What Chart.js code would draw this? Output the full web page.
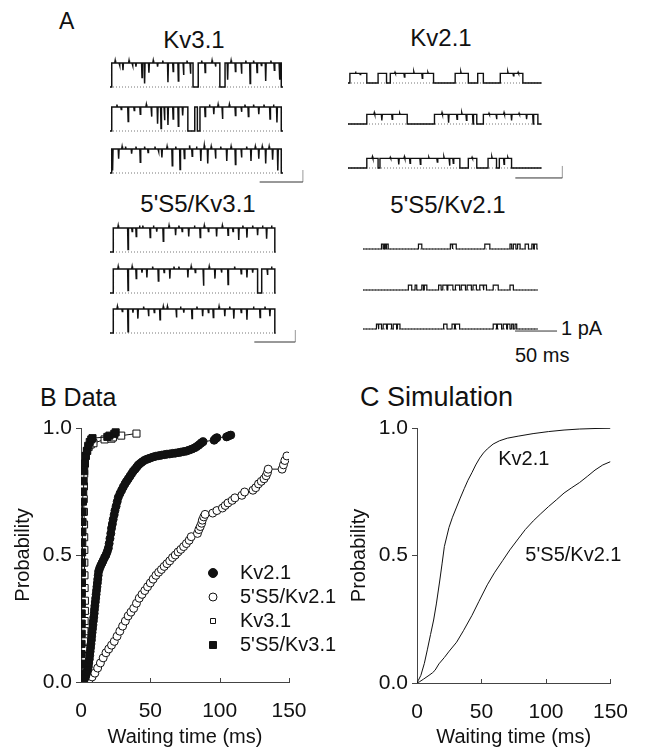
<!DOCTYPE html>
<html>
<head>
<meta charset="utf-8">
<title>Kv2.1 / Kv3.1 first latency</title>
<script src="https://cdn.jsdelivr.net/npm/chart.js@4.4.1/dist/chart.umd.min.js"></script>
<style>
  html, body { margin: 0; padding: 0; background: #fff; }
  #fig { position: relative; width: 645px; height: 749px; overflow: hidden;
         font-family: Arial, "Liberation Sans", Helvetica, sans-serif; color: #111; }
  #fig canvas { position: absolute; }
  .txt { position: absolute; white-space: nowrap; line-height: 1; transform: translate(-50%, -50%); }
  .txt.left { transform: translate(0, -50%); }
</style>
</head>
<body>
<div id="fig">
  <div class="txt left" style="left:59px;top:21px;font-size:23px">A</div>
  <div class="txt" style="left:194px;top:40px;font-size:24px">Kv3.1</div>
  <div class="txt" style="left:441px;top:38px;font-size:24px">Kv2.1</div>
  <div class="txt" style="left:198px;top:204px;font-size:24px">5'S5/Kv3.1</div>
  <div class="txt" style="left:448px;top:205px;font-size:24px">5'S5/Kv2.1</div>
  <div class="txt left" style="left:561px;top:328px;font-size:20px">1 pA</div>
  <div class="txt left" style="left:515px;top:355px;font-size:20px">50 ms</div>
  <div class="txt left" style="left:40px;top:397px;font-size:25px">B Data</div>
  <div class="txt left" style="left:360px;top:397px;font-size:27px">C Simulation</div>
</div>
<script>
// ---- A: single-channel records (time in ms, current in pA) ----
// each record = open intervals, plus brief flickers [time, current] inside them
const kv31Unit = 2.0;
const kv31End = 200;
const kv31Opens = [
  [[2, 96], [102, 127], [133, 198]],
  [[2, 90], [98, 101], [104, 198]],
  [[2, 198]]
];
const kv31Flickers = [
  [[6, 2.2], [11, 1.8], [15, 1.4], [22, 2.2], [26, 1.8], [30, 1.7], [37, 0.8], [40, 0.3], [45, 1.2], [50, 2.2], [55, 1.7], [61, 2.2], [67, 0.4],
   [73, 1.3], [79, 0.5], [85, 1.0], [89, 2.2], [93, 1.1], [106, 2.2], [110, 1.2], [118, 2.2], [122, 1.7], [136, 0.6], [140, 2.2], [145, 1.3],
   [152, 1.1], [157, 2.2], [162, 0.3], [166, 2.2], [170, 1.2], [175, 1.8], [180, 0.5], [186, 2.2], [190, 1.4], [196, 0.6]],
  [[8, 2.2], [13, 1.8], [21, 0.8], [28, 1.7], [35, 1.4], [42, 2.2], [48, 1.2], [55, 0.6], [59, 0.2], [63, 0.9], [67, 0.5], [73, 1.0], [79, 0.4],
   [84, 1.3], [110, 1.2], [115, 2.2], [120, 1.4], [125, 2.2], [130, 1.0], [138, 2.2], [145, 1.3], [152, 1.6], [156, 2.2], [160, 1.2],
   [166, 2.2], [172, 1.4], [178, 2.2], [185, 1.0], [189, 2.2], [193, 0.7]],
  [[3, 0.2], [10, 1.2], [14, 2.2], [18, 2.2], [25, 1.6], [30, 2.2], [35, 0.9], [40, 2.2], [44, 1.7], [52, 2.2], [56, 1.8], [60, 1.3], [66, 2.2],
   [72, 0.6], [76, 2.2], [81, 0.3], [86, 1.2], [92, 2.3], [95, 1.4], [100, 2.2], [105, 1.0], [109, 2.3], [113, 0.8], [117, 2.2], [122, 1.2],
   [128, 2.2], [135, 1.0], [140, 2.2], [145, 0.7], [152, 1.3], [158, 2.2], [163, 1.0], [168, 2.2], [172, 1.2], [176, 2.2], [180, 0.8],
   [184, 2.2], [188, 1.1], [194, 0.2]]
];

const kv21Unit = 0.8;
const kv21End = 206;
const kv21Opens = [
  [[2, 20], [32, 41], [45, 91], [114, 128], [138, 144], [162, 186]],
  [[20, 63], [92, 137], [144, 202]],
  [[20, 32], [34, 119], [128, 137], [149, 158], [161, 174]]
];
const kv21Flickers = [
  [[8, 0.95], [13, 0.7], [50, 0.9], [60, 0.5], [70, 0.95], [79, 0.4], [85, 0.9], [120, 0.95], [170, 0.95], [176, 0.6], [181, 0.9]],
  [[28, 0.95], [36, 0.3], [47, 0.4], [55, 0.9], [100, 0.95], [107, 0.1], [116, 0.4], [121, 0.95], [126, 0.3], [133, 0.0],
   [150, 0.9], [158, 0.4], [166, 0.95], [174, 0.3], [182, 0.9], [190, 0.4], [197, 0.0]],
  [[26, 0.95], [45, 0.9], [54, 0.3], [60, 0.95], [66, 0.4], [77, 0.3], [86, 0.9], [95, 0.5], [102, 0.95], [108, 0.2], [112, 0.4],
   [132, 0.9], [153, 0.95], [166, 0.3], [170, 0.9]]
];

const s5kv31Unit = 2.0;
const s5kv31End = 202;
const s5kv31Opens = [
  [[4, 201]],
  [[4, 180], [185, 201]],
  [[4, 201]]
];
const s5kv31Flickers = [
  [[10, 2.2], [22, 0.2], [27, 1.7], [32, 1.3], [36, 2.2], [40, 2.2], [49, 1.2], [53, 2.2], [57, 1.7], [65, 0.9], [72, 2.2], [80, 1.4], [84, 2.2],
   [88, 1.7], [96, 1.3], [103, 2.2], [110, 1.2], [115, 2.2], [120, 1.7], [130, 1.3], [137, 2.2], [144, 1.4], [150, 1.7], [157, 1.0],
   [162, 2.2], [167, 1.2], [174, 2.2], [180, 1.4], [186, 2.2], [191, 1.1], [197, 2.2]],
  [[10, 2.2], [22, 0.2], [27, 2.2], [32, 1.2], [39, 1.7], [45, 1.3], [52, 2.2], [59, 1.0], [66, 1.7], [73, 1.2], [78, 2.2], [84, 2.2],
   [95, 1.3], [99, 2.2], [104, 1.7], [114, 0.6], [121, 2.2], [128, 1.2], [136, 1.7], [144, 0.7], [152, 2.2], [160, 1.6], [167, 1.3],
   [174, 1.7], [192, 1.5], [197, 2.2]],
  [[9, 2.2], [15, 1.8], [22, 0.1], [28, 1.7], [34, 1.2], [41, 2.2], [47, 1.4], [54, 1.7], [61, 1.1], [65, 2.2], [70, 2.2], [81, 1.3],
   [86, 2.2], [90, 1.7], [100, 1.2], [106, 2.2], [113, 1.4], [120, 1.7], [126, 1.3], [133, 2.2], [140, 1.4], [146, 2.2], [151, 1.2],
   [160, 1.7], [167, 1.1], [175, 2.2], [183, 1.3], [189, 2.2], [195, 1.4]]
];

const s5kv21Unit = 0.4;
const s5kv21End = 208;
const s5kv21Opens = [
  [[22, 24], [25.5, 27], [28, 30], [66, 70], [104, 106], [107, 111], [145, 151], [175, 177], [179, 182], [184, 187], [193, 197], [201, 203], [204, 207]],
  [[54, 58], [62, 64], [70, 72], [73, 76], [90, 93], [95, 100], [101, 107], [110, 115], [117, 122], [124, 129], [131, 135], [139, 143], [144, 147], [155, 161], [175, 179]],
  [[16, 18], [19, 22], [24, 28], [29, 34], [36, 40], [41, 44], [96, 100], [106, 109], [110, 115], [155, 159], [160, 165], [167, 171], [172, 175], [177, 179], [181, 183]]
];
const s5kv21Flickers = [[], [], []];

// calibration bars
const barMs = 50;
const barPA = 1;

// ---- B: measured first-latency distributions [waiting time ms, probability] ----
const kv21Data = [
  [1.5, 0.005], [2.5, 0.012], [3.2, 0.02], [3.8, 0.03], [4.3, 0.04], [4.8, 0.05], [5.3, 0.06], [5.6, 0.075], [6, 0.09], [6.3, 0.105],
  [6.6, 0.12], [6.9, 0.135], [7.2, 0.15], [7.5, 0.165], [7.7, 0.18], [8, 0.195], [8.3, 0.21], [8.6, 0.225], [8.9, 0.24], [9.2, 0.255],
  [9.5, 0.27], [9.7, 0.285], [10, 0.3], [10.3, 0.315], [10.6, 0.33], [10.9, 0.345], [11.2, 0.36], [11.5, 0.375], [11.8, 0.39], [12.1, 0.405],
  [12.4, 0.42], [12.7, 0.435], [13.4, 0.447], [14.2, 0.458], [15.1, 0.468], [16, 0.478], [17, 0.49], [18, 0.5], [18.9, 0.513], [19.7, 0.527],
  [20.3, 0.545], [20.9, 0.565], [21.5, 0.585], [22, 0.605], [22.6, 0.622], [23.2, 0.64], [23.9, 0.658], [24.5, 0.675], [25.3, 0.692], [26.1, 0.71],
  [26.9, 0.727], [28.1, 0.742], [29.3, 0.755], [30.5, 0.768], [31.7, 0.78], [32.9, 0.79], [34.1, 0.8], [35.3, 0.81], [36.5, 0.82], [37.7, 0.83],
  [39, 0.838], [40.2, 0.846], [41.3, 0.854], [42.6, 0.86], [44, 0.866], [45.5, 0.872], [47, 0.876], [48.5, 0.879], [50, 0.882], [52, 0.886],
  [54, 0.889], [56, 0.891], [58, 0.893], [60, 0.895], [62, 0.897], [64, 0.898], [66, 0.9], [68, 0.901], [70, 0.903], [72, 0.905],
  [74, 0.907], [76, 0.909], [78, 0.913], [80, 0.917], [82, 0.922], [83.5, 0.927], [85, 0.933], [86.5, 0.94], [88, 0.946], [96, 0.952],
  [97, 0.958], [98, 0.962], [105, 0.965], [106.5, 0.969], [108, 0.972]
];
const s5kv21Data = [
  [2, 0.0], [4, 0.004], [6, 0.01], [8, 0.02], [10, 0.035], [12, 0.055], [14, 0.075], [16, 0.095], [18, 0.115], [20, 0.13],
  [22, 0.145], [24, 0.16], [26, 0.18], [28, 0.2], [30, 0.22], [32, 0.24], [34, 0.26], [36, 0.275], [38, 0.29], [40, 0.31],
  [42, 0.33], [44, 0.345], [46, 0.36], [48, 0.375], [50, 0.39], [52, 0.405], [54, 0.42], [56, 0.432], [58, 0.443], [60, 0.455],
  [62, 0.466], [64, 0.477], [66, 0.49], [68, 0.5], [70, 0.512], [72, 0.522], [74, 0.533], [76, 0.545], [78, 0.558], [79.5, 0.572],
  [84, 0.585], [85, 0.6], [86, 0.612], [87, 0.625], [87.5, 0.637], [88.5, 0.65], [89.5, 0.66], [95, 0.665], [98, 0.675], [102, 0.685],
  [104, 0.695], [106, 0.705], [109, 0.715], [111, 0.725], [116, 0.735], [118, 0.748], [124, 0.755], [126, 0.765], [128, 0.78], [130, 0.79],
  [132, 0.8], [133.5, 0.812], [134.5, 0.825], [135, 0.838], [145, 0.838], [146, 0.855], [147, 0.872], [148.5, 0.89]
];
const kv31Data = [
  [0.5, 0.005], [1, 0.03], [1.5, 0.07], [2, 0.1], [2, 0.13], [2.3, 0.16], [2.5, 0.2], [2.6, 0.24], [2.8, 0.28], [2.8, 0.32],
  [2.6, 0.37], [2.5, 0.42], [2.4, 0.47], [2.4, 0.52], [2.3, 0.57], [2.2, 0.62], [2.1, 0.67], [2, 0.72], [2.1, 0.77], [2.3, 0.82],
  [2.8, 0.86], [3.5, 0.89], [4.5, 0.91], [5.5, 0.925], [7, 0.935], [9, 0.94], [17, 0.955], [22, 0.958], [23, 0.963], [29, 0.97], [40, 0.978]
];
const s5kv31Data = [
  [0, 0], [0.2, 0.03], [0.3, 0.07], [0.4, 0.11], [0.4, 0.15], [0.5, 0.19], [0.5, 0.23], [0.5, 0.27], [0.6, 0.31], [0.6, 0.35],
  [0.7, 0.39], [0.7, 0.43], [0.8, 0.47], [0.8, 0.51], [0.9, 0.55], [1, 0.59], [1.1, 0.63], [1.2, 0.67], [1.4, 0.71], [1.6, 0.75],
  [1.9, 0.79], [2.3, 0.83], [2.8, 0.86], [3.4, 0.89], [4.2, 0.91], [5.2, 0.93], [6.3, 0.945], [7.4, 0.955], [8.3, 0.96], [19, 0.965],
  [20.5, 0.97], [24, 0.977], [25, 0.983]
];

// ---- C: simulated distributions ----
const simKv21 = [
  [0, 0], [1, 0.01], [3, 0.03], [5.7, 0.077], [8, 0.13], [10.5, 0.19], [12.9, 0.247], [15, 0.31], [17.6, 0.4], [19.5, 0.47],
  [21.2, 0.535], [24.8, 0.61], [27.5, 0.65], [30.7, 0.69], [33.5, 0.725], [36.7, 0.763], [39.5, 0.795], [42.6, 0.825], [45.5, 0.855],
  [48.6, 0.882], [51.5, 0.902], [54.5, 0.918], [59, 0.937], [64, 0.95], [70, 0.96], [78.4, 0.968], [90, 0.978], [102, 0.986],
  [114, 0.992], [126, 0.996], [138, 0.998], [150, 0.999]
];
const simS5Kv21 = [
  [0, 0], [2, 0.005], [5, 0.015], [9.3, 0.03], [12, 0.04], [14, 0.05], [17, 0.075], [21.2, 0.1], [25, 0.125], [30.7, 0.16],
  [36, 0.205], [42.6, 0.265], [48, 0.32], [54.5, 0.385], [60, 0.432], [66.4, 0.48], [72, 0.522], [78.4, 0.565], [84, 0.602],
  [90.2, 0.636], [96, 0.664], [102, 0.692], [108, 0.718], [114, 0.745], [120, 0.766], [126, 0.786], [132, 0.81], [138, 0.835],
  [144, 0.855], [150, 0.868]
];
const simLabels = [["Kv2.1", 63, 0.875], ["5'S5/Kv2.1", 84, 0.5]];

const FONT = 'Arial, "Liberation Sans", Helvetica, sans-serif';
Chart.defaults.font.family = FONT;
Chart.defaults.color = '#111';

const fig = document.getElementById('fig');
function place(left, top, width, height) {
  const c = document.createElement('canvas');
  c.width = width;
  c.height = height;
  c.style.left = left + 'px';
  c.style.top = top + 'px';
  fig.appendChild(c);
  return c;
}

function xy(pairs) {
  return pairs.map(p => ({ x: p[0], y: p[1] }));
}

// turn open intervals + flickers into a polyline
function tracePoints(opens, flickers, unit, end) {
  const pts = [{ x: 0, y: 0 }];
  opens.forEach(([a, b]) => {
    pts.push({ x: a, y: 0 }, { x: a, y: unit });
    flickers.filter(f => f[0] > a && f[0] < b).forEach(([t, lvl]) => {
      pts.push({ x: t - 0.5, y: unit }, { x: t, y: lvl }, { x: t + 0.5, y: unit });
    });
    pts.push({ x: b, y: unit }, { x: b, y: 0 });
  });
  pts.push({ x: end, y: 0 });
  return pts;
}

// ---- panel A layout ----
const PX_PER_PA = 12;
const panels = [
  { opens: kv31Opens, flickers: kv31Flickers, unit: kv31Unit, end: kv31End, left: 110, pxPerMs: 0.865, lw: 1.5,
    baselines: [87, 131, 173], bar: { x: 173, y: -0.75, vertical: true } },
  { opens: kv21Opens, flickers: kv21Flickers, unit: kv21Unit, end: kv21End, left: 348, pxPerMs: 0.94, lw: 1.4,
    baselines: [83, 124, 168], bar: { x: 178, y: -0.83, vertical: true } },
  { opens: s5kv31Opens, flickers: s5kv31Flickers, unit: s5kv31Unit, end: s5kv31End, left: 110, pxPerMs: 0.82, lw: 1.5,
    baselines: [252, 293, 333], bar: { x: 176, y: -0.75, vertical: true } },
  { opens: s5kv21Opens, flickers: s5kv21Flickers, unit: s5kv21Unit, end: s5kv21End, left: 363, pxPerMs: 0.84, lw: 1.2,
    baselines: [249, 290, 329], bar: { x: 181, y: -0.17, vertical: false } }
];

function traceChart(p, i) {
  const w = 232, h = 52, padL = 6, above = 34;
  const canvas = place(p.left - padL, p.baselines[i] - above, w, h);
  const datasets = [
    { data: tracePoints(p.opens[i], p.flickers[i], p.unit, p.end), borderColor: '#111', borderWidth: p.lw },
    { data: [{ x: 0, y: 0 }, { x: p.end, y: 0 }], borderColor: '#777', borderWidth: 1, borderDash: [1, 2] }
  ];
  if (i === 2) {
    const b = p.bar;
    datasets.push({ data: [{ x: b.x, y: b.y }, { x: b.x + barMs, y: b.y }], borderColor: '#333', borderWidth: 1 });
    if (b.vertical) {
      datasets.push({ data: [{ x: b.x + barMs, y: b.y }, { x: b.x + barMs, y: b.y + barPA }], borderColor: '#999', borderWidth: 1 });
    }
  }
  datasets.forEach(d => { d.showLine = true; d.pointRadius = 0; d.fill = false; });
  new Chart(canvas, {
    type: 'scatter',
    data: { datasets },
    options: {
      responsive: false, animation: false, events: [],
      layout: { padding: 0 },
      plugins: { legend: { display: false }, tooltip: { enabled: false } },
      scales: {
        x: { type: 'linear', display: false, min: -padL / p.pxPerMs, max: (w - padL) / p.pxPerMs },
        y: { type: 'linear', display: false, min: -(h - above) / PX_PER_PA, max: above / PX_PER_PA }
      }
    }
  });
}
panels.forEach(p => [0, 1, 2].forEach(i => traceChart(p, i)));

// ---- shared axis setup for B and C ----
const innerTicks = {
  id: 'innerTicks',
  afterDraw(chart) {
    const { ctx, chartArea, scales: { x } } = chart;
    ctx.save();
    ctx.strokeStyle = '#444';
    ctx.lineWidth = 1;
    x.ticks.forEach(t => {
      if (t.value === x.min) return;
      const px = Math.round(x.getPixelForValue(t.value)) + 0.5;
      ctx.beginPath();
      ctx.moveTo(px, chartArea.bottom);
      ctx.lineTo(px, chartArea.bottom - 4);
      ctx.stroke();
    });
    ctx.restore();
  }
};

function axes(yWidth, xHeight, titlePad) {
  return {
    x: {
      type: 'linear', min: 0, max: 150,
      afterFit: s => { s.height = xHeight; },
      ticks: { stepSize: 50, padding: 17, font: { size: 21 } },
      grid: { drawOnChartArea: false, drawTicks: false },
      border: { color: '#444', width: 1 },
      title: { display: true, text: 'Waiting time (ms)', font: { size: 20 }, padding: { top: 0, bottom: 0 } }
    },
    y: {
      type: 'linear', min: 0, max: 1,
      afterFit: s => { s.width = yWidth; },
      ticks: { stepSize: 0.5, padding: 4, font: { size: 21 }, callback: v => v.toFixed(1) },
      grid: { drawOnChartArea: false, drawTicks: true, tickLength: 5, color: '#444' },
      border: { color: '#444', width: 1 },
      title: { display: true, text: 'Probability', font: { size: 20 }, padding: { top: titlePad, bottom: 0 } }
    }
  };
}

// ---- B: data ----
const legendBox = {
  id: 'legendBox',
  afterDraw(chart, args, opts) {
    const { ctx } = chart;
    ctx.save();
    ctx.font = '20px ' + FONT;
    ctx.textBaseline = 'middle';
    chart.data.datasets.forEach((ds, i) => {
      const y = opts.top + i * opts.step;
      const x = opts.markerX;
      const s = ds.legendSize;
      ctx.fillStyle = ds.backgroundColor;
      ctx.strokeStyle = '#111';
      ctx.lineWidth = 1;
      ctx.beginPath();
      if (ds.pointStyle === 'circle') ctx.arc(x, y, s, 0, Math.PI * 2);
      else ctx.rect(x - s, y - s, s * 2, s * 2);
      ctx.fill();
      ctx.stroke();
      ctx.fillStyle = '#111';
      ctx.fillText(ds.label, opts.textX, y);
    });
    ctx.restore();
  }
};

new Chart(place(0, 380, 345, 369), {
  type: 'scatter',
  data: {
    datasets: [
      { label: 'Kv2.1', data: xy(kv21Data), pointStyle: 'circle', pointRadius: 4, backgroundColor: '#111',
        borderColor: '#111', borderWidth: 1, showLine: true, order: 0, legendSize: 4.5 },
      { label: "5'S5/Kv2.1", data: xy(s5kv21Data), pointStyle: 'circle', pointRadius: 4, backgroundColor: '#fff',
        borderColor: '#111', borderWidth: 1, showLine: true, order: 1, legendSize: 4 },
      { label: 'Kv3.1', data: xy(kv31Data), pointStyle: 'rect', pointRadius: 5, backgroundColor: '#fff',
        borderColor: '#111', borderWidth: 1, showLine: true, order: 3, legendSize: 2.5 },
      { label: "5'S5/Kv3.1", data: xy(s5kv31Data), pointStyle: 'rect', pointRadius: 5, backgroundColor: '#111',
        borderColor: '#111', borderWidth: 1, showLine: true, order: 2, legendSize: 3.5 }
    ]
  },
  options: {
    responsive: false, animation: false, events: [],
    layout: { padding: { left: 0, top: 48, right: 56, bottom: 0 } },
    plugins: {
      legend: { display: false }, tooltip: { enabled: false },
      legendBox: { markerX: 213, textX: 240, top: 193, step: 24 }
    },
    scales: axes(81, 67, 11)
  },
  plugins: [innerTicks, legendBox]
});

// ---- C: simulation ----
const curveLabels = {
  id: 'curveLabels',
  afterDraw(chart) {
    const { ctx, scales: { x, y } } = chart;
    ctx.save();
    ctx.font = '20px ' + FONT;
    ctx.fillStyle = '#111';
    ctx.textBaseline = 'middle';
    simLabels.forEach(([text, t, p]) => ctx.fillText(text, x.getPixelForValue(t), y.getPixelForValue(p)));
    ctx.restore();
  }
};

new Chart(place(345, 380, 300, 369), {
  type: 'scatter',
  data: {
    datasets: [
      { label: 'Kv2.1', data: xy(simKv21), showLine: true, pointRadius: 0, borderColor: '#111', borderWidth: 1 },
      { label: "5'S5/Kv2.1", data: xy(simS5Kv21), showLine: true, pointRadius: 0, borderColor: '#111', borderWidth: 1 }
    ]
  },
  options: {
    responsive: false, animation: false, events: [],
    layout: { padding: { left: 0, top: 48, right: 18, bottom: 0 } },
    plugins: { legend: { display: false }, tooltip: { enabled: false } },
    scales: axes(72, 66, 2)
  },
  plugins: [innerTicks, curveLabels]
});
</script>
</body>
</html>
